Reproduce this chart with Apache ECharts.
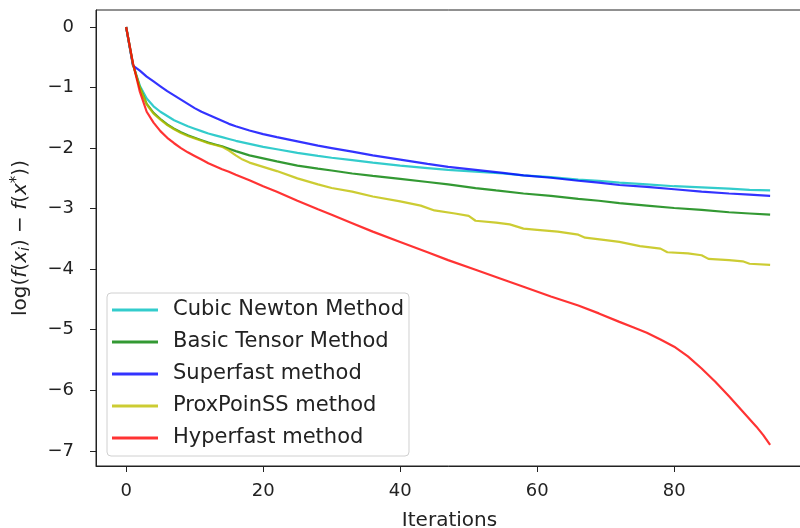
<!DOCTYPE html>
<html>
<head>
<meta charset="utf-8">
<script src="https://cdn.jsdelivr.net/npm/echarts@6/dist/echarts.min.js"></script>
<style>
  html, body { margin: 0; padding: 0; background: #fff; }
  #pic { width: 800px; height: 528px; }
</style>
</head>
<body>
<div id="pic"></div>
<script>
// iterations / log-gap values
var cubicIter = [0, 1, 2, 3, 4, 5, 6, 7, 8, 9, 10, 11, 12, 13, 14, 15, 16, 18, 20, 22, 25, 28, 30, 33, 36, 40, 44, 47, 51, 55, 58, 62, 66, 69, 72, 76, 80, 84, 88, 91, 94];
var cubicVal  = [0, -0.62, -0.97, -1.18, -1.31, -1.40, -1.47, -1.54, -1.59, -1.64, -1.68, -1.72, -1.76, -1.79, -1.82, -1.85, -1.88, -1.93, -1.98, -2.02, -2.08, -2.13, -2.16, -2.20, -2.24, -2.29, -2.33, -2.36, -2.39, -2.42, -2.45, -2.48, -2.52, -2.54, -2.57, -2.60, -2.63, -2.65, -2.67, -2.69, -2.70];

var tensorIter = [0, 1, 2, 3, 4, 5, 6, 7, 8, 9, 10, 11, 12, 13, 14, 15, 16, 18, 20, 22, 25, 28, 30, 33, 36, 40, 44, 47, 51, 54, 58, 62, 66, 69, 72, 76, 80, 84, 88, 91, 94];
var tensorVal  = [0, -0.62, -1.0, -1.27, -1.42, -1.52, -1.61, -1.68, -1.74, -1.79, -1.83, -1.87, -1.91, -1.94, -1.97, -2.01, -2.05, -2.12, -2.17, -2.22, -2.29, -2.34, -2.37, -2.42, -2.46, -2.51, -2.56, -2.60, -2.66, -2.70, -2.75, -2.79, -2.84, -2.87, -2.91, -2.95, -2.99, -3.02, -3.06, -3.08, -3.10];

var superIter = [0, 1, 2, 3, 4, 5, 6, 7, 8, 9, 10, 11, 12, 13, 14, 15, 16, 18, 20, 22, 25, 28, 30, 33, 36, 40, 44, 47, 51, 55, 58, 62, 66, 69, 72, 76, 80, 84, 88, 91, 94];
var superVal  = [0, -0.64, -0.72, -0.82, -0.90, -0.98, -1.06, -1.13, -1.20, -1.27, -1.34, -1.40, -1.45, -1.50, -1.55, -1.60, -1.64, -1.71, -1.77, -1.82, -1.89, -1.96, -2.00, -2.06, -2.12, -2.19, -2.26, -2.31, -2.36, -2.41, -2.45, -2.49, -2.54, -2.57, -2.61, -2.64, -2.68, -2.72, -2.75, -2.77, -2.79];

var proxIter = [0, 1, 2, 3, 4, 5, 6, 7, 8, 9, 10, 11, 12, 13, 14, 15, 16, 17, 18, 20, 22, 25, 28, 30, 33, 36, 40, 43, 45, 48, 50, 51, 54, 56, 58, 60, 63, 66, 67, 70, 72, 75, 78, 79, 82, 84, 85, 88, 90, 91, 94];
var proxVal  = [0, -0.62, -1.0, -1.28, -1.43, -1.53, -1.62, -1.69, -1.75, -1.80, -1.84, -1.88, -1.92, -1.95, -1.98, -2.04, -2.12, -2.19, -2.24, -2.31, -2.38, -2.50, -2.60, -2.66, -2.72, -2.80, -2.88, -2.95, -3.03, -3.08, -3.12, -3.20, -3.23, -3.26, -3.33, -3.35, -3.38, -3.43, -3.48, -3.52, -3.55, -3.62, -3.66, -3.72, -3.74, -3.77, -3.83, -3.85, -3.87, -3.91, -3.93];

var hyperIter = [0, 1, 2, 3, 4, 5, 6, 7, 8, 9, 10, 11, 12, 13, 14, 15, 16, 18, 20, 22, 25, 28, 30, 33, 36, 40, 44, 47, 51, 55, 58, 62, 66, 69, 72, 74, 76, 78, 80, 82, 84, 86, 88, 90, 92, 93, 94];
var hyperVal  = [0, -0.6, -1.07, -1.40, -1.58, -1.72, -1.83, -1.92, -2.0, -2.07, -2.13, -2.19, -2.25, -2.30, -2.35, -2.39, -2.44, -2.53, -2.63, -2.72, -2.87, -3.01, -3.10, -3.24, -3.38, -3.55, -3.72, -3.85, -4.01, -4.17, -4.29, -4.45, -4.60, -4.73, -4.87, -4.96, -5.05, -5.16, -5.28, -5.44, -5.64, -5.86, -6.10, -6.35, -6.60, -6.74, -6.90];

var xTicks = [0, 20, 40, 60, 80];
var yTicks = [0, -1, -2, -3, -4, -5, -6, -7];

function pairs(xs, ys) {
  var out = [];
  for (var i = 0; i < xs.length; i++) out.push([xs[i], ys[i]]);
  return out;
}
function minus(v) { return String(v).replace('-', '\u2212'); }

var fontFam = 'DejaVu Sans';
var myChart = echarts.init(document.getElementById('pic'));
var option = {
  animation: false,
  backgroundColor: '#fff',
  textStyle: { fontFamily: fontFam },
  grid: {
    left: 96, top: 10, right: -3, bottom: 62,
    outerBoundsMode: 'none', containLabel: false,
    show: true, borderColor: '#222', borderWidth: 1
  },
  legend: {
    orient: 'vertical',
    left: 107, top: 293,
    padding: [6, 5, 7, 5],
    backgroundColor: 'rgba(255,255,255,0.8)',
    borderColor: '#d0d0d0', borderWidth: 1, borderRadius: 4,
    icon: 'rect',
    itemWidth: 46, itemHeight: 3, itemGap: 10,
    textStyle: { fontSize: 21, color: '#222', lineHeight: 22, padding: [0, 0, 0, 10] },
    data: ['Cubic Newton Method', 'Basic Tensor Method', 'Superfast method', 'ProxPoinSS method', 'Hyperfast method']
  },
  xAxis: {
    type: 'value',
    min: -4.4, max: 98.8,
    name: 'Iterations', nameLocation: 'middle', nameGap: 45,
    nameTextStyle: { fontSize: 20, color: '#222' },
    axisLine: { onZero: false, lineStyle: { color: '#222' } },
    axisTick: { show: true, length: 6, customValues: xTicks, lineStyle: { color: '#222' } },
    axisLabel: { customValues: xTicks, fontSize: 18, color: '#222', margin: 16, formatter: minus },
    splitLine: { show: false }
  },
  yAxis: {
    type: 'value',
    min: -7.25, max: 0.28,
    name: 'log({it|f}({it|x}{sub|i}) \u2212 {it|f}({it|x}{sup|*}))', nameLocation: 'middle', nameGap: 64,
    nameTextStyle: {
      fontSize: 20, color: '#222',
      rich: {
        it: { fontSize: 20, fontStyle: 'italic', color: '#222' },
        sub: { fontSize: 14, fontStyle: 'italic', color: '#222', verticalAlign: 'bottom', padding: [8, 0, 0, 0] },
        sup: { fontSize: 15, color: '#222', verticalAlign: 'top', padding: [0, 0, 6, 0] }
      }
    },
    axisLine: { onZero: false, lineStyle: { color: '#222' } },
    axisTick: { show: true, length: 6, customValues: yTicks, lineStyle: { color: '#222' } },
    axisLabel: { customValues: yTicks, fontSize: 18, color: '#222', margin: 22, formatter: minus },
    splitLine: { show: false }
  },
  series: [{
    name: 'Cubic Newton Method', type: 'line', showSymbol: false, symbol: 'none',
    itemStyle: { color: 'rgba(0,191,191,0.8)' },
    lineStyle: { width: 2.2, color: 'rgba(0,191,191,0.8)' },
    data: pairs(cubicIter, cubicVal)
  }, {
    name: 'Basic Tensor Method', type: 'line', showSymbol: false, symbol: 'none',
    itemStyle: { color: 'rgba(0,128,0,0.8)' },
    lineStyle: { width: 2.2, color: 'rgba(0,128,0,0.8)' },
    data: pairs(tensorIter, tensorVal)
  }, {
    name: 'Superfast method', type: 'line', showSymbol: false, symbol: 'none',
    itemStyle: { color: 'rgba(0,0,255,0.8)' },
    lineStyle: { width: 2.2, color: 'rgba(0,0,255,0.8)' },
    data: pairs(superIter, superVal)
  }, {
    name: 'ProxPoinSS method', type: 'line', showSymbol: false, symbol: 'none',
    itemStyle: { color: 'rgba(191,191,0,0.8)' },
    lineStyle: { width: 2.2, color: 'rgba(191,191,0,0.8)' },
    data: pairs(proxIter, proxVal)
  }, {
    name: 'Hyperfast method', type: 'line', showSymbol: false, symbol: 'none',
    itemStyle: { color: 'rgba(255,0,0,0.8)' },
    lineStyle: { width: 2.2, color: 'rgba(255,0,0,0.8)' },
    data: pairs(hyperIter, hyperVal)
  }]
};
myChart.setOption(option);
</script>
</body>
</html>
